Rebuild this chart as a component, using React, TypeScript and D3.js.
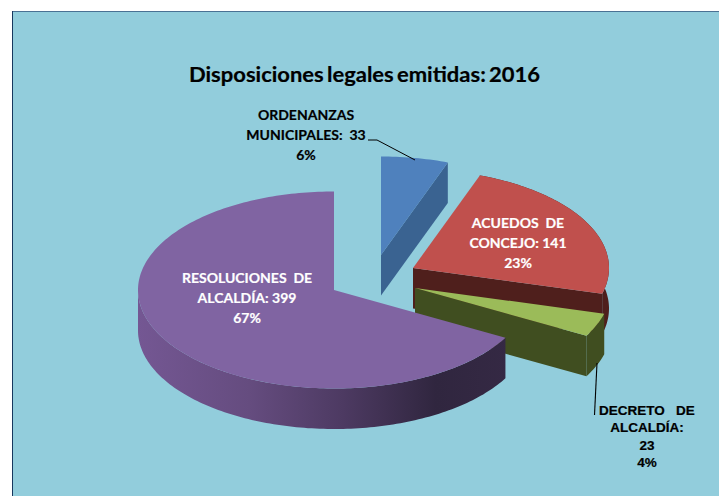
import React from "react";
import * as d3 from "d3";

const categories = ["ORDENANZAS MUNICIPALES", "ACUEDOS DE CONCEJO", "DECRETO DE ALCALDÍA", "RESOLUCIONES DE ALCALDÍA"];
const values = [33, 141, 23, 399];
const topColors = ["#4f81bd", "#c0504d", "#9bbb59", "#8064a2"];
const sideColors = ["#3a6391", "#4f1f1c", "#404e20", "#4f3b66"];
const offsetsX = [47, 79, 81, 0];
const offsetsY = [-35, -22, -2, 0];

const WIDTH = 719;
const HEIGHT = 496;
const CX = 334;
const CY = 290;
const RX = 196;
const RY = 98.5;
const DEPTH = 40.5;

const x = d3.scaleLinear().domain([-1, 1]).range([CX - RX, CX + RX]);
const y = d3.scaleLinear().domain([-1, 1]).range([CY - RY, CY + RY]);
const line = d3.line<[number, number]>();

const slices = d3.pie<number>().sort(null)(values);

function rimPoints(a0: number, a1: number, ox: number, oy: number): [number, number][] {
  const n = Math.max(2, Math.ceil(Math.abs(a1 - a0) / 0.02));
  return d3.range(n + 1).map((i) => {
    const a = a0 + ((a1 - a0) * i) / n;
    return [x(Math.sin(a)) + ox, y(-Math.cos(a)) + oy] as [number, number];
  });
}

function topFace(i: number) {
  const s = slices[i];
  const ox = offsetsX[i], oy = offsetsY[i];
  return line([[CX + ox, CY + oy], ...rimPoints(s.startAngle, s.endAngle, ox, oy)]) + "Z";
}

function extruded(pts: [number, number][]) {
  const lower = pts.slice().reverse().map((p) => [p[0], p[1] + DEPTH] as [number, number]);
  return line([...pts, ...lower]) + "Z";
}

function radialFace(i: number, angle: number) {
  const ox = offsetsX[i], oy = offsetsY[i];
  return extruded([[CX + ox, CY + oy], ...rimPoints(angle, angle, ox, oy).slice(0, 1)]);
}

function rim(i: number) {
  const s = slices[i];
  return extruded(rimPoints(Math.max(s.startAngle, 0), Math.min(s.endAngle, 1.5 * Math.PI), offsetsX[i], offsetsY[i]));
}

const TITLE = "Disposiciones legales emitidas: 2016";
const blackLabel1 = ["ORDENANZAS", "MUNICIPALES:  33", "6%"];
const whiteLabelRed = ["ACUEDOS  DE", "CONCEJO: 141", "23%"];
const whiteLabelPurple = ["RESOLUCIONES  DE", "ALCALDÍA: 399", "67%"];
const blackLabel2 = ["DECRETO   DE", "ALCALDÍA:", "23", "4%"];
const LABEL_FONT = "Lato, 'Open Sans', sans-serif";

function Label({ lines, cx, y0, lh, fill, font, size }: any) {
  return (
    <text textAnchor="middle" fill={fill} stroke={fill} strokeWidth={0.2} fontFamily={font} fontSize={size} fontWeight={700} style={{ whiteSpace: "pre" }}>
      {lines.map((t: string, i: number) => (
        <tspan key={i} x={cx} y={y0 + i * lh}>{t}</tspan>
      ))}
    </text>
  );
}

export default function App() {
  return (
    <svg width={WIDTH} height={HEIGHT} style={{ position: "absolute", left: 0, top: 0 }}>
      <defs>
        <linearGradient id="rimGrad" gradientUnits="userSpaceOnUse" x1={CX - RX} x2={CX + RX * 0.9} y1={0} y2={0}>
          <stop offset="0" stopColor="#745793" />
          <stop offset="0.3" stopColor="#654c7f" />
          <stop offset="0.55" stopColor="#4d3a62" />
          <stop offset="0.8" stopColor="#30263f" />
          <stop offset="1" stopColor="#352944" />
        </linearGradient>
      </defs>
      <rect x={12} y={11} width={WIDTH} height={HEIGHT} fill="#92cddc" />
      <line x1={12} y1={11.5} x2={WIDTH} y2={11.5} stroke="#4a7194" />
      <line x1={12.5} y1={11} x2={12.5} y2={HEIGHT} stroke="#17375e" />

      <text x={364.5} y={82} textAnchor="middle" fontFamily={LABEL_FONT} fontWeight={700} fontSize={20.5} fill="#000" stroke="#000" strokeWidth={0.2} wordSpacing={-2} textLength={351} lengthAdjust="spacingAndGlyphs">{TITLE}</text>

      {/* blue */}
      <path d={radialFace(0, slices[0].endAngle)} fill={sideColors[0]} />
      <path d={topFace(0)} fill={topColors[0]} />
      {/* red */}
      <path d={rim(1)} fill={sideColors[1]} />
      <path d={radialFace(1, slices[1].endAngle)} fill={sideColors[1]} />
      <path d={topFace(1)} fill={topColors[1]} />
      {/* green */}
      <path d={rim(2)} fill={sideColors[2]} />
      <path d={radialFace(2, slices[2].endAngle)} fill={sideColors[2]} />
      <path d={topFace(2)} fill={topColors[2]} />
      {/* purple */}
      <path d={rim(3)} fill="url(#rimGrad)" />
      <path d={topFace(3)} fill={topColors[3]} />

      <polyline points="368,140 377,140 415,160" fill="none" stroke="#000" strokeWidth={1} />
      <polyline points="597,363 594.5,415" fill="none" stroke="#000" strokeWidth={1.1} />

      <Label lines={blackLabel1} cx={306} y0={120} lh={20} fill="#000" font={LABEL_FONT} size={14} />
      <Label lines={whiteLabelRed} cx={518} y0={228} lh={20} fill="#fff" font={LABEL_FONT} size={14} />
      <Label lines={whiteLabelPurple} cx={247} y0={283} lh={20} fill="#fff" font={LABEL_FONT} size={14} />
      <Label lines={blackLabel2} cx={647} y0={415} lh={17.3} fill="#000" font="'Liberation Sans', Arial, sans-serif" size={13.5} />
    </svg>
  );
}
